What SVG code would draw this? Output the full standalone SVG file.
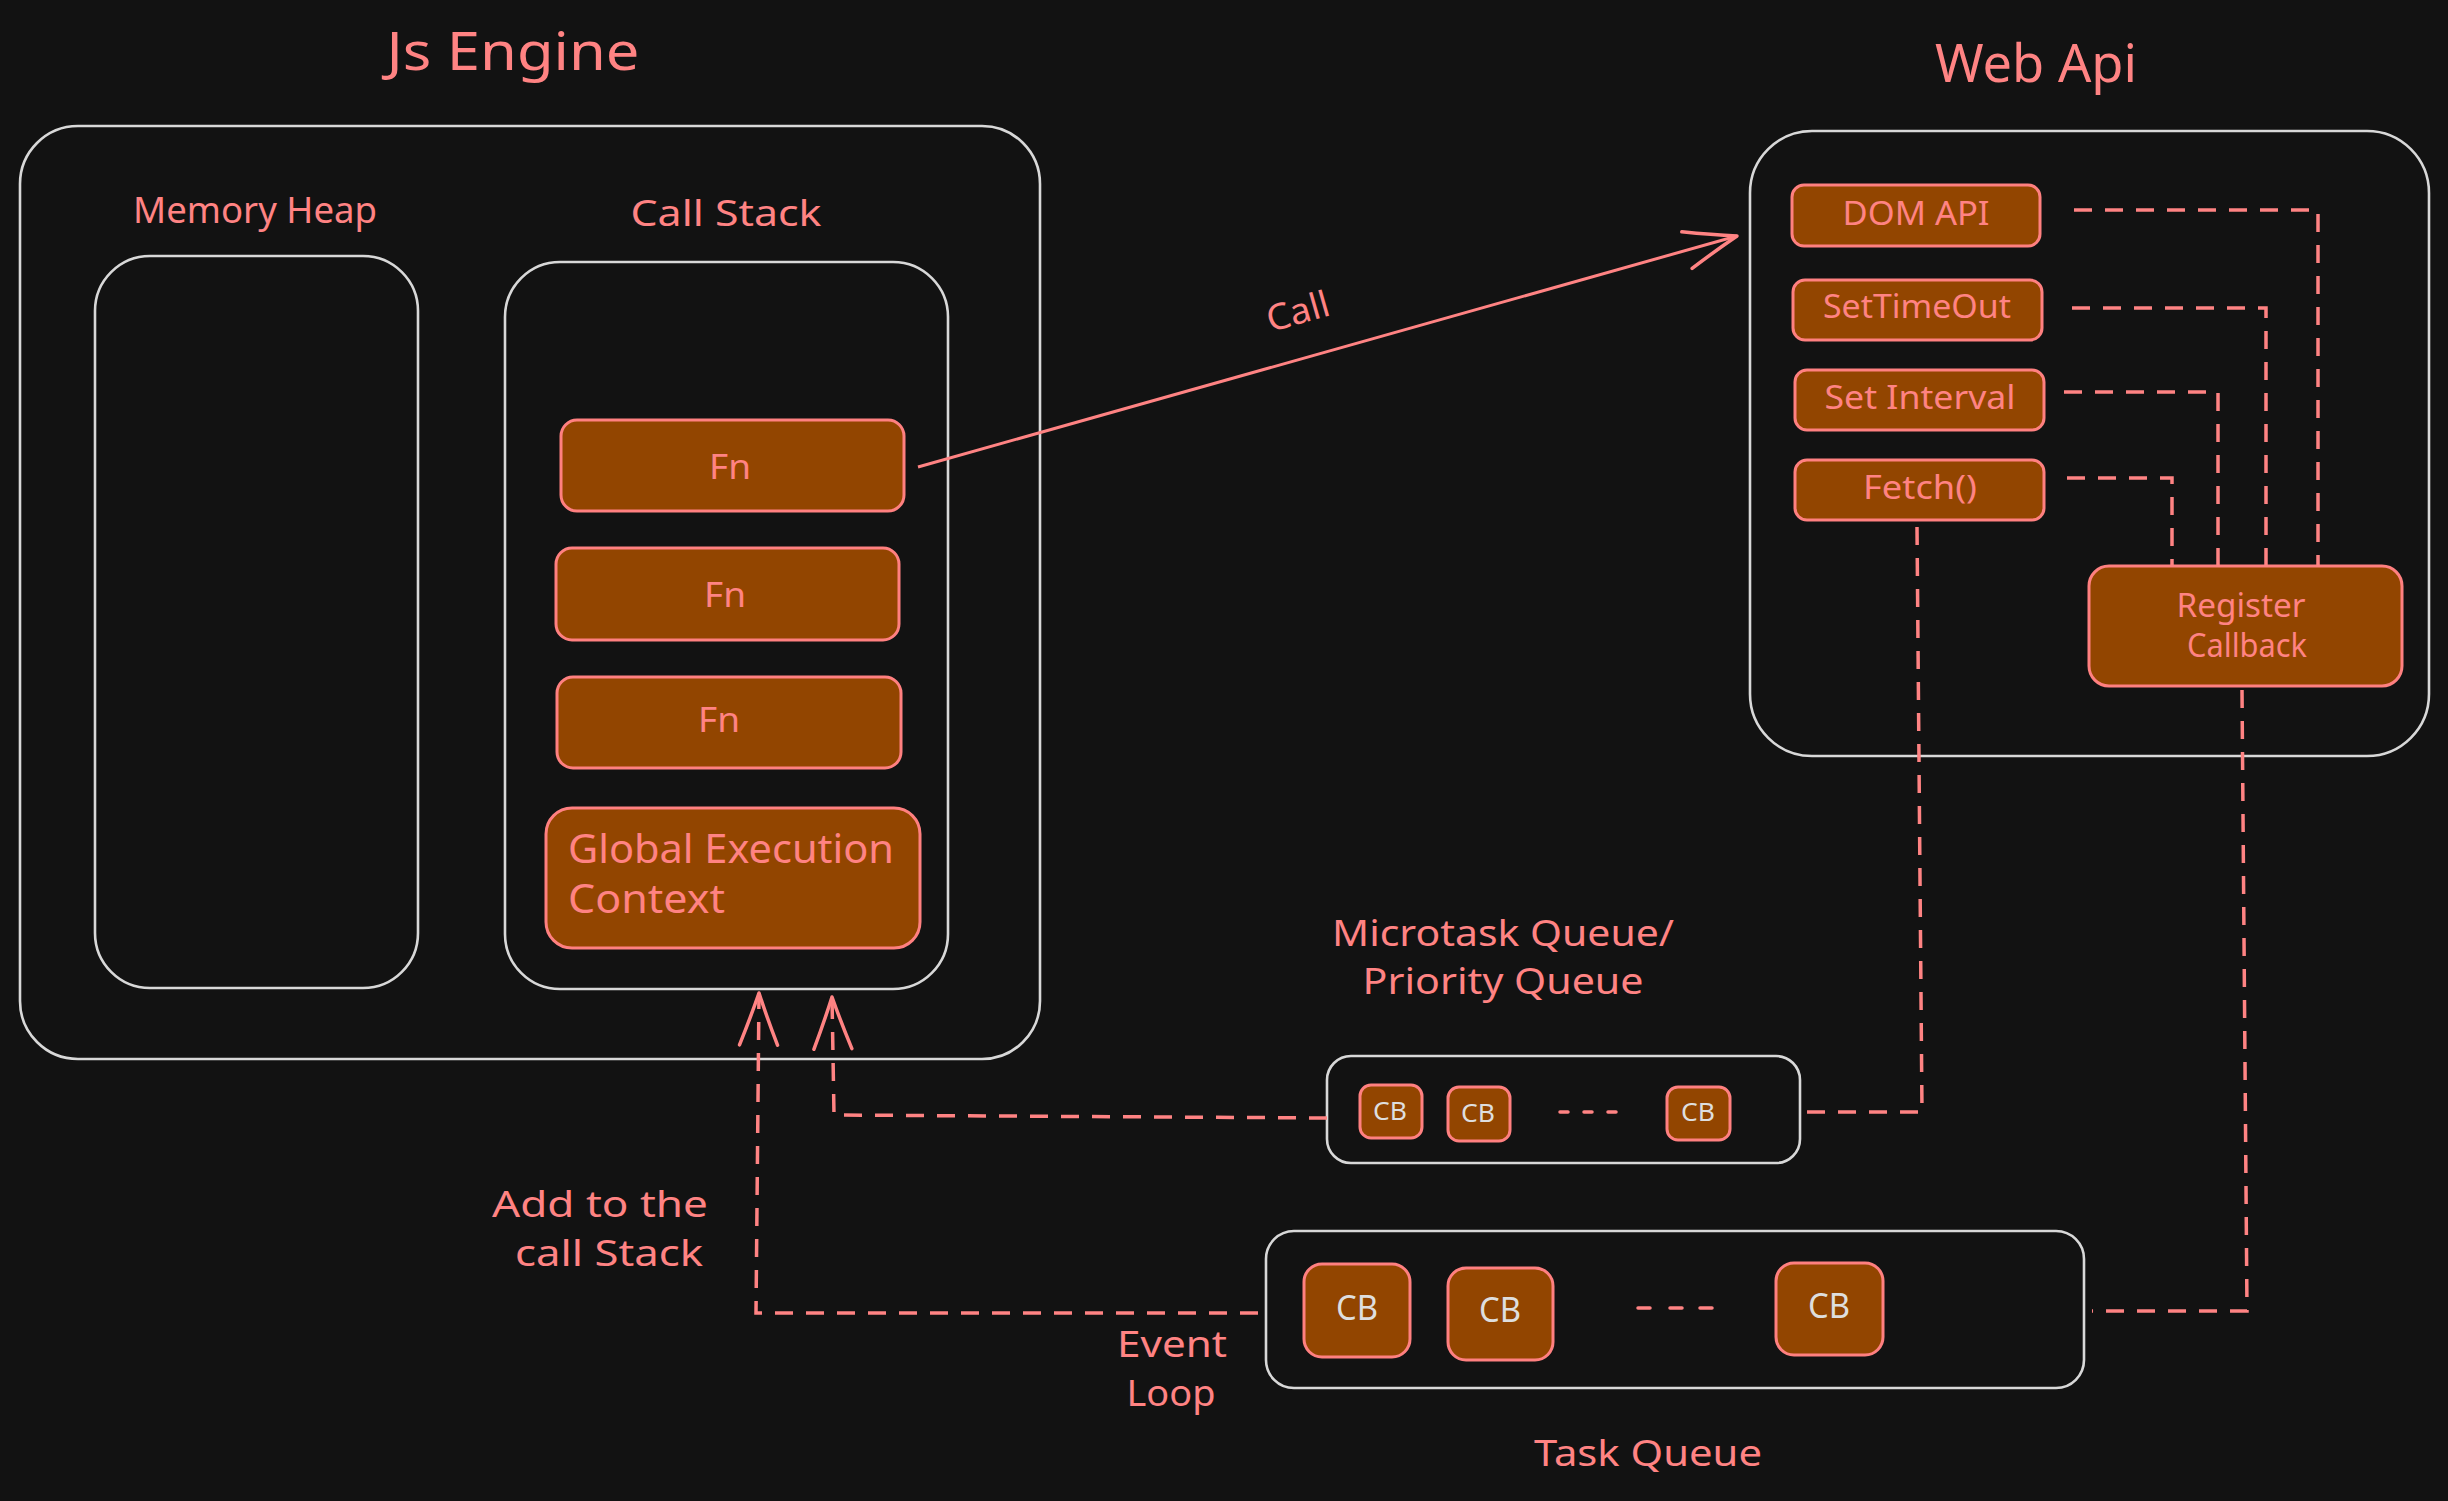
<svg xmlns="http://www.w3.org/2000/svg" width="2448" height="1501" viewBox="0 0 2448 1501">
<defs>
<style>
.bg{fill:#121212}
.box{fill:none;stroke:#d8d8d8;stroke-width:2.6}
.item{fill:#924500;stroke:#ff8080;stroke-width:3}
.t{font-family:"Noto Sans","Liberation Sans",sans-serif;fill:#ff8383}
.tc{text-anchor:middle}
.cb{font-family:"Noto Sans","Liberation Sans",sans-serif;fill:#dedede;text-anchor:middle}
.dash{fill:none;stroke:#ff8383;stroke-width:3.5;stroke-dasharray:18 13}
.dots{fill:none;stroke:#ff8383;stroke-width:3.5;stroke-linecap:round}
.solid{fill:none;stroke:#ff8383;stroke-width:3}
.head{fill:none;stroke:#ff8383;stroke-width:3.5;stroke-dasharray:none;stroke-linecap:round;stroke-linejoin:round}
</style>
<marker id="arr" markerUnits="userSpaceOnUse" markerWidth="80" markerHeight="60" viewBox="-60 -30 80 60" refX="0" refY="0" orient="auto" overflow="visible">
<path class="head" d="M-52,-19 Q-24,-8 0,0 Q-24,8 -52,19"/>
</marker>
</defs>
<rect class="bg" x="0" y="0" width="2448" height="1501"/>

<g id="js-engine">
<text class="t tc" x="513" y="70" font-size="52" textLength="253" lengthAdjust="spacingAndGlyphs">Js Engine</text>
<rect class="box" x="20" y="126" width="1020" height="933" rx="58"/>
</g>

<g id="memory-heap">
<text class="t tc" x="255" y="223" font-size="37" textLength="244" lengthAdjust="spacingAndGlyphs">Memory Heap</text>
<rect class="box" x="95" y="256" width="323" height="732" rx="55"/>
</g>

<g id="call-stack">
<text class="t tc" x="726" y="226" font-size="37" textLength="191" lengthAdjust="spacingAndGlyphs">Call Stack</text>
<rect class="box" x="505" y="262" width="443" height="727" rx="55"/>
</g>

<g id="fn-1">
<rect class="item" x="561" y="420" width="343" height="91" rx="16"/>
<text class="t tc" x="730" y="479" font-size="34" textLength="42" lengthAdjust="spacingAndGlyphs">Fn</text>
</g>
<g id="fn-2">
<rect class="item" x="556" y="548" width="343" height="92" rx="16"/>
<text class="t tc" x="725" y="607" font-size="34" textLength="42" lengthAdjust="spacingAndGlyphs">Fn</text>
</g>
<g id="fn-3">
<rect class="item" x="557" y="677" width="344" height="91" rx="16"/>
<text class="t tc" x="719" y="732" font-size="34" textLength="42" lengthAdjust="spacingAndGlyphs">Fn</text>
</g>
<g id="global-execution-context">
<rect class="item" x="546" y="808" width="374" height="140" rx="26"/>
<text class="t" x="568" y="863" font-size="40" textLength="326" lengthAdjust="spacingAndGlyphs">Global Execution</text>
<text class="t" x="568" y="913" font-size="40" textLength="157" lengthAdjust="spacingAndGlyphs">Context</text>
</g>

<g id="web-api">
<text class="t tc" x="2036" y="82" font-size="52" textLength="202" lengthAdjust="spacingAndGlyphs">Web Api</text>
<rect class="box" x="1750" y="131" width="679" height="625" rx="62"/>
</g>

<g id="dom-api">
<rect class="item" x="1792" y="185" width="248" height="61" rx="12"/>
<text class="t tc" x="1916" y="225" font-size="32" textLength="147" lengthAdjust="spacingAndGlyphs">DOM API</text>
</g>
<g id="set-timeout">
<rect class="item" x="1793" y="280" width="249" height="60" rx="12"/>
<text class="t tc" x="1917" y="318" font-size="32" textLength="188" lengthAdjust="spacingAndGlyphs">SetTimeOut</text>
</g>
<g id="set-interval">
<rect class="item" x="1795" y="370" width="249" height="60" rx="12"/>
<text class="t tc" x="1920" y="409" font-size="32" textLength="191" lengthAdjust="spacingAndGlyphs">Set Interval</text>
</g>
<g id="fetch">
<rect class="item" x="1795" y="460" width="249" height="60" rx="12"/>
<text class="t tc" x="1920" y="499" font-size="32" textLength="114" lengthAdjust="spacingAndGlyphs">Fetch()</text>
</g>
<g id="register-callback">
<rect class="item" x="2089" y="566" width="313" height="120" rx="20"/>
<text class="t tc" x="2241" y="617" font-size="32" textLength="129" lengthAdjust="spacingAndGlyphs">Register</text>
<text class="t tc" x="2247" y="657" font-size="32" textLength="120" lengthAdjust="spacingAndGlyphs">Callback</text>
</g>

<g id="microtask-queue">
<text class="t tc" x="1503" y="946" font-size="37" textLength="342" lengthAdjust="spacingAndGlyphs">Microtask Queue/</text>
<text class="t tc" x="1503" y="994" font-size="37" textLength="281" lengthAdjust="spacingAndGlyphs">Priority Queue</text>
<rect class="box" x="1327" y="1056" width="473" height="107" rx="24"/>
<rect class="item" x="1360" y="1085" width="62" height="53" rx="11"/>
<text class="cb" x="1390" y="1120" font-size="26" textLength="34" lengthAdjust="spacingAndGlyphs">CB</text>
<rect class="item" x="1448" y="1087" width="62" height="54" rx="11"/>
<text class="cb" x="1478" y="1122" font-size="26" textLength="34" lengthAdjust="spacingAndGlyphs">CB</text>
<path class="dots" d="M1560,1112 H1568 M1584,1112 H1592 M1608,1112 H1616"/>
<rect class="item" x="1667" y="1087" width="63" height="53" rx="11"/>
<text class="cb" x="1698" y="1121" font-size="26" textLength="34" lengthAdjust="spacingAndGlyphs">CB</text>
</g>

<g id="task-queue">
<rect class="box" x="1266" y="1231" width="818" height="157" rx="28"/>
<rect class="item" x="1304" y="1264" width="106" height="93" rx="18"/>
<text class="cb" x="1357" y="1320" font-size="34" textLength="42" lengthAdjust="spacingAndGlyphs">CB</text>
<rect class="item" x="1448" y="1268" width="105" height="92" rx="18"/>
<text class="cb" x="1500" y="1322" font-size="34" textLength="42" lengthAdjust="spacingAndGlyphs">CB</text>
<path class="dots" d="M1638,1308 H1650 M1670,1308 H1682 M1700,1308 H1712"/>
<rect class="item" x="1776" y="1263" width="107" height="92" rx="18"/>
<text class="cb" x="1829" y="1318" font-size="34" textLength="42" lengthAdjust="spacingAndGlyphs">CB</text>
<text class="t tc" x="1648" y="1466" font-size="37" textLength="228" lengthAdjust="spacingAndGlyphs">Task Queue</text>
</g>

<g id="labels">
<text class="t tc" x="600" y="1217" font-size="37" textLength="216" lengthAdjust="spacingAndGlyphs">Add to the</text>
<text class="t tc" x="609" y="1266" font-size="37" textLength="188" lengthAdjust="spacingAndGlyphs">call Stack</text>
<text class="t tc" x="1172" y="1357" font-size="37" textLength="110" lengthAdjust="spacingAndGlyphs">Event</text>
<text class="t tc" x="1171" y="1406" font-size="37" textLength="89" lengthAdjust="spacingAndGlyphs">Loop</text>
</g>

<g id="connectors">
<path class="solid" d="M918,467 L1737,236" marker-end="url(#arr)"/>
<text class="t tc" x="1298" y="324" font-size="36" transform="rotate(-16 1298 312)" textLength="64" lengthAdjust="spacingAndGlyphs">Call</text>
<path class="dash" d="M2074,210 H2318 V566"/>
<path class="dash" d="M2072,308 H2266 V566"/>
<path class="dash" d="M2064,392 H2218 V566"/>
<path class="dash" d="M2067,478 H2172 V566"/>
<path class="dash" d="M1917,527 L1922,1112 H1805"/>
<path class="dash" d="M2242,690 L2247,1311 H2092"/>
<path class="dash" d="M1327,1118 L834,1115 L832,997" marker-end="url(#arr)"/>
<path class="dash" d="M1258,1313 H756 L759,993" marker-end="url(#arr)"/>
</g>
</svg>
